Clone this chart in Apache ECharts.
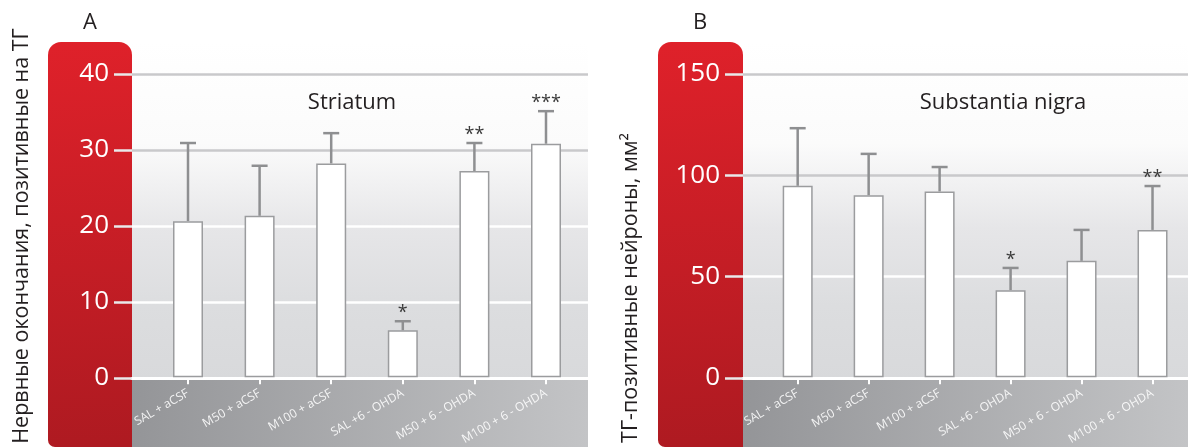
<!DOCTYPE html>
<html>
<head>
<meta charset="utf-8">
<script src="https://cdn.jsdelivr.net/npm/echarts@6/dist/echarts.min.js"></script>
<style>
  html, body { margin: 0; padding: 0; background: #ffffff; }
  #chart { width: 1188px; height: 447px; }
</style>
</head>
<body>
<div id="chart"></div>
<script>
// Treatment groups shared by both panels
const categories = ['SAL + aCSF', 'M50 + aCSF', 'M100 + aCSF', 'SAL +6 - OHDA', 'M50 + 6 - OHDA', 'M100 + 6 - OHDA'];

// Panel A: striatum, TH-positive nerve terminals (mean and upper SEM)
const striatumMean = [20.6, 21.3, 28.2, 6.2, 27.2, 30.8];
const striatumErr = [10.3, 6.6, 4.0, 1.2, 3.7, 4.3];
const striatumSig = ['', '', '', '*', '**', '***'];
const striatumTicks = { min: 0, max: 40, step: 10 };

// Panel B: substantia nigra, TH-positive neurons per mm²
const nigraMean = [94.7, 90.0, 91.9, 43.1, 57.6, 72.9];
const nigraErr = [28.5, 20.5, 12.1, 11.0, 15.3, 21.7];
const nigraSig = ['', '', '', '*', '', '**'];
const nigraTicks = { min: 0, max: 150, step: 50 };

const FONT = '"Open Sans", "Noto Sans", sans-serif';
const chart = echarts.init(document.getElementById('chart'));

// Layout of each panel: red label column, plot background, bar area
const panels = [
  { red: 48, axisX: 132, plotRight: 588, barLeft: 152.2, ticks: striatumTicks,
    gridColors: ['#ffffff', '#ffffff', '#ffffff', '#c9c9cb', '#c9c9cb'] },
  { red: 658, axisX: 743, plotRight: 1188, barLeft: 762.2, ticks: nigraTicks,
    gridColors: ['#ffffff', '#ffffff', '#c9c9cb', '#c9c9cb'] }
];
const TOP = 74, HEIGHT = 304, BAR_W_AREA = 429.6;

const grids = [], xAxes = [], yAxes = [], series = [], graphics = [];

panels.forEach((p, k) => {
  const bgIdx = k * 2, barIdx = k * 2 + 1;
  grids.push({ left: p.axisX, top: TOP, width: p.plotRight - p.axisX, height: HEIGHT });
  grids.push({ left: p.barLeft, top: TOP, width: BAR_W_AREA, height: HEIGHT });

  // background axis pair: value ticks, grid lines, the white zero line
  xAxes.push({
    gridIndex: bgIdx, type: 'value', min: 0, max: 1, position: 'bottom',
    axisLine: { show: true, onZero: false, lineStyle: { color: '#ffffff', width: 3 } },
    axisTick: { show: false }, axisLabel: { show: false }, splitLine: { show: false }
  });
  yAxes.push({
    gridIndex: bgIdx, type: 'value', min: p.ticks.min, max: p.ticks.max, interval: p.ticks.step,
    axisLine: { show: false },
    axisTick: { show: true, length: 18, lineStyle: { color: '#e9e9ea', width: 2.5 } },
    axisLabel: { color: '#ffffff', fontSize: 26, fontFamily: FONT, margin: 23 },
    splitLine: { show: true, lineStyle: { color: p.gridColors, width: 2.5 } }
  });

  // bar axis pair: categories with rotated labels
  xAxes.push({
    gridIndex: barIdx, type: 'category', data: categories,
    axisLine: { show: false },
    axisTick: { show: true, alignWithLabel: true, length: 7, lineStyle: { color: '#ffffff', width: 2 } },
    axisLabel: { rotate: 30, color: 'rgba(255,255,255,0.88)', fontSize: 12, fontFamily: FONT, margin: 15, interval: 0 },
    splitLine: { show: false }
  });
  yAxes.push({
    gridIndex: barIdx, type: 'value', min: p.ticks.min, max: p.ticks.max, interval: p.ticks.step,
    show: false, splitLine: { show: false }
  });

  // decorative panel pieces behind the axes
  graphics.push({
    type: 'rect', z: -100, silent: true,
    shape: { x: p.axisX, y: 42, width: p.plotRight - p.axisX, height: 338 },
    style: { fill: new echarts.graphic.LinearGradient(0, 0, 0, 1, [
      { offset: 0, color: '#ffffff' },
      { offset: 0.3, color: '#fbfbfb' },
      { offset: 0.55, color: '#e6e6e8' },
      { offset: 0.78, color: '#dcdddf' },
      { offset: 1, color: '#d8d9db' }
    ]) }
  });
  graphics.push({
    type: 'rect', z: -99, silent: true,
    shape: { x: p.axisX, y: 380, width: p.plotRight - p.axisX, height: 67 },
    style: { fill: new echarts.graphic.LinearGradient(0, 0, 1, 0, [
      { offset: 0, color: '#949598' },
      { offset: 1, color: '#c3c4c6' }
    ]) }
  });
  graphics.push({
    type: 'rect', z: -98, silent: true,
    shape: { x: p.red, y: 42, width: p.axisX - p.red, height: 405, r: [13, 13, 0, 7] },
    style: { fill: new echarts.graphic.LinearGradient(0, 0, 0.3, 1, [
      { offset: 0, color: '#df212a' },
      { offset: 1, color: '#ae1a21' }
    ]) }
  });
});

function errorSeries(means, errs, sig, idx) {
  return {
    type: 'custom', xAxisIndex: idx, yAxisIndex: idx, z: 5,
    data: means.map((m, i) => [i, m, errs[i]]),
    renderItem: function (params, api) {
      const i = api.value(0), m = api.value(1), e = api.value(2);
      const base = api.coord([i, m]);
      const top = api.coord([i, m + e]);
      const stroke = { stroke: '#8e8f91', lineWidth: 2.5 };
      const children = [
        { type: 'line', shape: { x1: base[0], y1: base[1], x2: top[0], y2: top[1] }, style: stroke },
        { type: 'line', shape: { x1: top[0] - 8, y1: top[1], x2: top[0] + 8, y2: top[1] }, style: stroke }
      ];
      if (sig[i]) {
        children.push({
          type: 'text', x: top[0], y: top[1] - 8,
          style: { text: sig[i], fill: '#3a3a3a', font: '18px ' + FONT, textAlign: 'center', textVerticalAlign: 'middle' }
        });
      }
      return { type: 'group', children: children };
    }
  };
}

[[striatumMean, striatumErr, striatumSig], [nigraMean, nigraErr, nigraSig]].forEach((d, k) => {
  const idx = k * 2 + 1;
  series.push(errorSeries(d[0], d[1], d[2], idx));
  series.push({
    type: 'bar', xAxisIndex: idx, yAxisIndex: idx, z: 6, barWidth: 30,
    data: d[0],
    itemStyle: { color: '#ffffff', borderColor: '#9b9c9e', borderWidth: 1.5 }
  });
});

// panel letters, titles and rotated axis names
const texts = [
  { x: 90, y: 23, text: 'A', size: 22, rot: 0 },
  { x: 700, y: 23, text: 'B', size: 22, rot: 0 },
  { x: 352, y: 103, text: 'Striatum', size: 22, rot: 0 },
  { x: 1003, y: 103, text: 'Substantia nigra', size: 22, rot: 0 },
  { x: 22, y: 236, text: 'Нервные окончания, позитивные на ТГ', size: 21.5, rot: Math.PI / 2 },
  { x: 631, y: 288, text: 'ТГ-позитивные нейроны, мм²', size: 21.5, rot: Math.PI / 2 }
];
texts.forEach(t => graphics.push({
  type: 'text', x: t.x, y: t.y, rotation: t.rot, silent: true,
  style: { text: t.text, fill: '#231f20', font: t.size + 'px ' + FONT, textAlign: 'center', textVerticalAlign: 'middle' }
}));

chart.setOption({
  animation: false,
  grid: grids,
  xAxis: xAxes,
  yAxis: yAxes,
  series: series,
  graphic: { elements: graphics }
});
</script>
</body>
</html>
